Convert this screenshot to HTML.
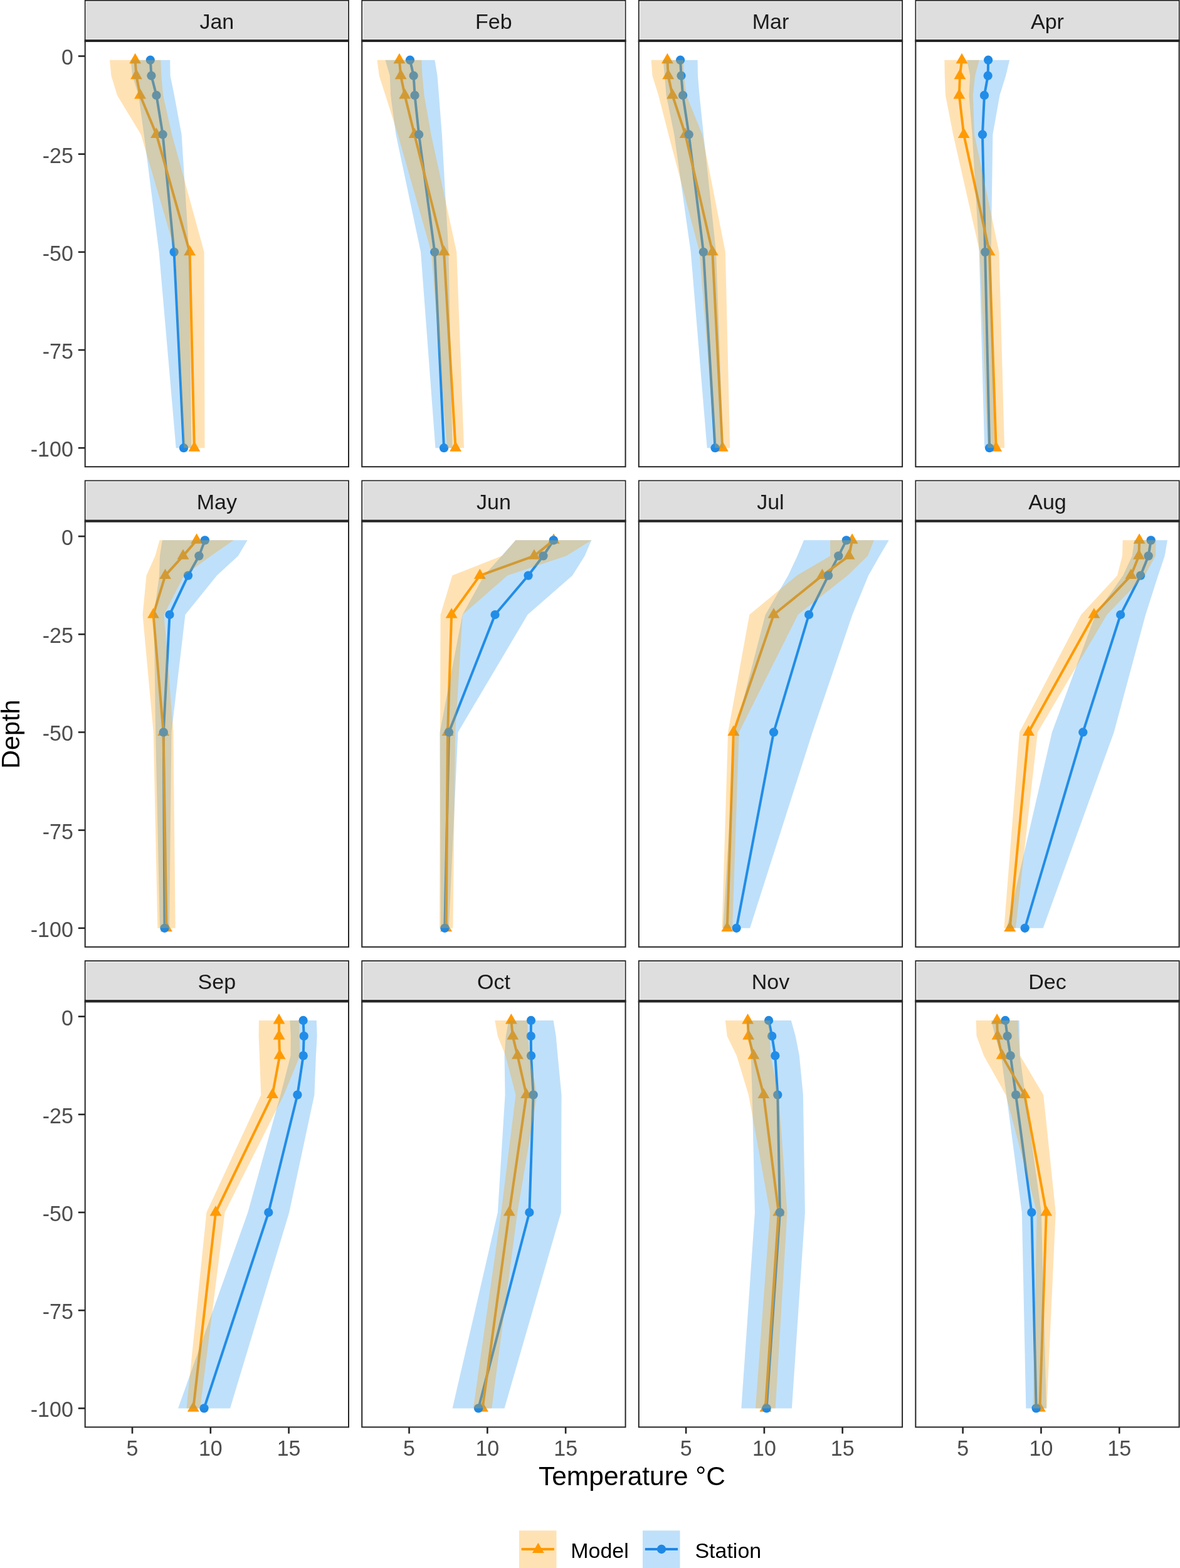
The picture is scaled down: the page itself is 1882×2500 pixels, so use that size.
<!DOCTYPE html>
<html><head><meta charset="utf-8"><title>Temperature profiles</title><style>html,body{margin:0;padding:0;background:#fff;}svg{display:block;}</style></head><body>
<svg width="1882" height="2500" viewBox="0 0 1882 2500" font-family="'Liberation Sans', Arial, Helvetica, sans-serif">
<rect width="1882" height="2500" fill="#FFFFFF"/>
<clipPath id="c0"><rect x="135.7" y="65" width="420.3" height="679.2"/></clipPath>
<g clip-path="url(#c0)"><polyline points="239.8,95.75 241.4,120.73 249.5,151.97 259.6,214.44 277.6,401.85 293,714.2" fill="none" stroke="#1E88E5" stroke-width="4" stroke-linejoin="round" stroke-linecap="butt"/><polyline points="215.6,95.75 217.4,120.73 223.5,151.97 249.5,214.44 302.6,401.85 309.9,714.2" fill="none" stroke="#FF9900" stroke-width="4" stroke-linejoin="round" stroke-linecap="butt"/><polygon points="215.6,84.85 225.04,101.2 206.16,101.2" fill="#FF9900"/><polygon points="217.4,109.83 226.84,126.19 207.96,126.19" fill="#FF9900"/><polygon points="223.5,141.07 232.94,157.42 214.06,157.42" fill="#FF9900"/><polygon points="249.5,203.54 258.94,219.89 240.06,219.89" fill="#FF9900"/><polygon points="302.6,390.95 312.04,407.3 293.16,407.3" fill="#FF9900"/><polygon points="309.9,703.3 319.34,719.65 300.46,719.65" fill="#FF9900"/><circle cx="239.8" cy="95.75" r="7.15" fill="#1E88E5"/><circle cx="241.4" cy="120.73" r="7.15" fill="#1E88E5"/><circle cx="249.5" cy="151.97" r="7.15" fill="#1E88E5"/><circle cx="259.6" cy="214.44" r="7.15" fill="#1E88E5"/><circle cx="277.6" cy="401.85" r="7.15" fill="#1E88E5"/><circle cx="293" cy="714.2" r="7.15" fill="#1E88E5"/><polygon points="208.4,95.75 211.2,120.73 221,151.97 229.6,214.44 253.6,401.85 280.7,714.2 305.3,714.2 301.6,401.85 289.6,214.44 278,151.97 271.6,120.73 271.2,95.75" fill="#2A98EE" fill-opacity="0.3"/><polygon points="175,95.75 177.4,120.73 186.9,151.97 224.8,214.44 279.6,401.85 293.3,714.2 326.5,714.2 325.6,401.85 274.2,214.44 260.1,151.97 257.4,120.73 256.2,95.75" fill="#FF9E08" fill-opacity="0.3"/></g>
<rect x="135.7" y="66" width="420.3" height="678.2" fill="none" stroke="#262626" stroke-width="2"/>
<rect x="135.7" y="0.8" width="420.3" height="63.2" fill="#DEDEDE" stroke="#262626" stroke-width="1.8"/>
<rect x="137.3" y="2.4" width="417.1" height="60" fill="none" stroke="#F2F2F2" stroke-width="1"/>
<line x1="134.7" y1="65" x2="557" y2="65" stroke="#262626" stroke-width="3.9"/>
<text x="345.85" y="46" text-anchor="middle" font-size="34" fill="#1A1A1A">Jan</text>
<clipPath id="c1"><rect x="577.25" y="65" width="420.3" height="679.2"/></clipPath>
<g clip-path="url(#c1)"><polyline points="653.95,95.75 659.65,120.73 661.55,151.97 668.15,214.44 693.25,401.85 708.05,714.2" fill="none" stroke="#1E88E5" stroke-width="4" stroke-linejoin="round" stroke-linecap="butt"/><polyline points="636.95,95.75 639.15,120.73 645.65,151.97 661.05,214.44 708.05,401.85 726.55,714.2" fill="none" stroke="#FF9900" stroke-width="4" stroke-linejoin="round" stroke-linecap="butt"/><polygon points="636.95,84.85 646.39,101.2 627.51,101.2" fill="#FF9900"/><polygon points="639.15,109.83 648.59,126.19 629.71,126.19" fill="#FF9900"/><polygon points="645.65,141.07 655.09,157.42 636.21,157.42" fill="#FF9900"/><polygon points="661.05,203.54 670.49,219.89 651.61,219.89" fill="#FF9900"/><polygon points="708.05,390.95 717.49,407.3 698.61,407.3" fill="#FF9900"/><polygon points="726.55,703.3 735.99,719.65 717.11,719.65" fill="#FF9900"/><circle cx="653.95" cy="95.75" r="7.15" fill="#1E88E5"/><circle cx="659.65" cy="120.73" r="7.15" fill="#1E88E5"/><circle cx="661.55" cy="151.97" r="7.15" fill="#1E88E5"/><circle cx="668.15" cy="214.44" r="7.15" fill="#1E88E5"/><circle cx="693.25" cy="401.85" r="7.15" fill="#1E88E5"/><circle cx="708.05" cy="714.2" r="7.15" fill="#1E88E5"/><polygon points="614.45,95.75 621.75,120.73 623.05,151.97 631.45,214.44 671.05,401.85 694.45,714.2 721.65,714.2 715.45,401.85 704.85,214.44 700.05,151.97 697.55,120.73 693.45,95.75" fill="#2A98EE" fill-opacity="0.3"/><polygon points="601.55,95.75 604.75,120.73 614.75,151.97 634.55,214.44 687.85,401.85 713.05,714.2 740.05,714.2 728.25,401.85 687.55,214.44 676.55,151.97 673.55,120.73 672.35,95.75" fill="#FF9E08" fill-opacity="0.3"/></g>
<rect x="577.25" y="66" width="420.3" height="678.2" fill="none" stroke="#262626" stroke-width="2"/>
<rect x="577.25" y="0.8" width="420.3" height="63.2" fill="#DEDEDE" stroke="#262626" stroke-width="1.8"/>
<rect x="578.85" y="2.4" width="417.1" height="60" fill="none" stroke="#F2F2F2" stroke-width="1"/>
<line x1="576.25" y1="65" x2="998.55" y2="65" stroke="#262626" stroke-width="3.9"/>
<text x="787.4" y="46" text-anchor="middle" font-size="34" fill="#1A1A1A">Feb</text>
<clipPath id="c2"><rect x="1018.8" y="65" width="420.3" height="679.2"/></clipPath>
<g clip-path="url(#c2)"><polyline points="1085.1,95.75 1086.5,120.73 1089.1,151.97 1098.7,214.44 1121.9,401.85 1140.6,714.2" fill="none" stroke="#1E88E5" stroke-width="4" stroke-linejoin="round" stroke-linecap="butt"/><polyline points="1064.4,95.75 1065.7,120.73 1072.5,151.97 1093.1,214.44 1136.3,401.85 1152.3,714.2" fill="none" stroke="#FF9900" stroke-width="4" stroke-linejoin="round" stroke-linecap="butt"/><polygon points="1064.4,84.85 1073.84,101.2 1054.96,101.2" fill="#FF9900"/><polygon points="1065.7,109.83 1075.14,126.19 1056.26,126.19" fill="#FF9900"/><polygon points="1072.5,141.07 1081.94,157.42 1063.06,157.42" fill="#FF9900"/><polygon points="1093.1,203.54 1102.54,219.89 1083.66,219.89" fill="#FF9900"/><polygon points="1136.3,390.95 1145.74,407.3 1126.86,407.3" fill="#FF9900"/><polygon points="1152.3,703.3 1161.74,719.65 1142.86,719.65" fill="#FF9900"/><circle cx="1085.1" cy="95.75" r="7.15" fill="#1E88E5"/><circle cx="1086.5" cy="120.73" r="7.15" fill="#1E88E5"/><circle cx="1089.1" cy="151.97" r="7.15" fill="#1E88E5"/><circle cx="1098.7" cy="214.44" r="7.15" fill="#1E88E5"/><circle cx="1121.9" cy="401.85" r="7.15" fill="#1E88E5"/><circle cx="1140.6" cy="714.2" r="7.15" fill="#1E88E5"/><polygon points="1057.6,95.75 1060,120.73 1062.6,151.97 1075.3,214.44 1101.7,401.85 1127.7,714.2 1153.5,714.2 1142.1,401.85 1122.1,214.44 1115.6,151.97 1113,120.73 1112.6,95.75" fill="#2A98EE" fill-opacity="0.3"/><polygon points="1038.6,95.75 1040.5,120.73 1050.2,151.97 1066.2,214.44 1115.7,401.85 1140.3,714.2 1164.3,714.2 1156.9,401.85 1120,214.44 1094.8,151.97 1090.9,120.73 1090.2,95.75" fill="#FF9E08" fill-opacity="0.3"/></g>
<rect x="1018.8" y="66" width="420.3" height="678.2" fill="none" stroke="#262626" stroke-width="2"/>
<rect x="1018.8" y="0.8" width="420.3" height="63.2" fill="#DEDEDE" stroke="#262626" stroke-width="1.8"/>
<rect x="1020.4" y="2.4" width="417.1" height="60" fill="none" stroke="#F2F2F2" stroke-width="1"/>
<line x1="1017.8" y1="65" x2="1440.1" y2="65" stroke="#262626" stroke-width="3.9"/>
<text x="1228.95" y="46" text-anchor="middle" font-size="34" fill="#1A1A1A">Mar</text>
<clipPath id="c3"><rect x="1460.35" y="65" width="420.3" height="679.2"/></clipPath>
<g clip-path="url(#c3)"><polyline points="1576.15,95.75 1575.65,120.73 1569.95,151.97 1566.95,214.44 1571.15,401.85 1578.15,714.2" fill="none" stroke="#1E88E5" stroke-width="4" stroke-linejoin="round" stroke-linecap="butt"/><polyline points="1534.05,95.75 1530.95,120.73 1529.85,151.97 1537.15,214.44 1578.05,401.85 1588.65,714.2" fill="none" stroke="#FF9900" stroke-width="4" stroke-linejoin="round" stroke-linecap="butt"/><polygon points="1534.05,84.85 1543.49,101.2 1524.61,101.2" fill="#FF9900"/><polygon points="1530.95,109.83 1540.39,126.19 1521.51,126.19" fill="#FF9900"/><polygon points="1529.85,141.07 1539.29,157.42 1520.41,157.42" fill="#FF9900"/><polygon points="1537.15,203.54 1546.59,219.89 1527.71,219.89" fill="#FF9900"/><polygon points="1578.05,390.95 1587.49,407.3 1568.61,407.3" fill="#FF9900"/><polygon points="1588.65,703.3 1598.09,719.65 1579.21,719.65" fill="#FF9900"/><circle cx="1576.15" cy="95.75" r="7.15" fill="#1E88E5"/><circle cx="1575.65" cy="120.73" r="7.15" fill="#1E88E5"/><circle cx="1569.95" cy="151.97" r="7.15" fill="#1E88E5"/><circle cx="1566.95" cy="214.44" r="7.15" fill="#1E88E5"/><circle cx="1571.15" cy="401.85" r="7.15" fill="#1E88E5"/><circle cx="1578.15" cy="714.2" r="7.15" fill="#1E88E5"/><polygon points="1542.15,95.75 1547.15,120.73 1545.45,151.97 1550.55,214.44 1561.65,401.85 1570.15,714.2 1586.15,714.2 1580.65,401.85 1583.35,214.44 1594.45,151.97 1604.15,120.73 1610.15,95.75" fill="#2A98EE" fill-opacity="0.3"/><polygon points="1506.35,95.75 1506.75,120.73 1507.95,151.97 1520.15,214.44 1562.65,401.85 1575.25,714.2 1602.05,714.2 1593.45,401.85 1554.15,214.44 1551.75,151.97 1555.15,120.73 1561.75,95.75" fill="#FF9E08" fill-opacity="0.3"/></g>
<rect x="1460.35" y="66" width="420.3" height="678.2" fill="none" stroke="#262626" stroke-width="2"/>
<rect x="1460.35" y="0.8" width="420.3" height="63.2" fill="#DEDEDE" stroke="#262626" stroke-width="1.8"/>
<rect x="1461.95" y="2.4" width="417.1" height="60" fill="none" stroke="#F2F2F2" stroke-width="1"/>
<line x1="1459.35" y1="65" x2="1881.65" y2="65" stroke="#262626" stroke-width="3.9"/>
<text x="1670.5" y="46" text-anchor="middle" font-size="34" fill="#1A1A1A">Apr</text>
<clipPath id="c4"><rect x="135.7" y="830.6" width="420.3" height="679.2"/></clipPath>
<g clip-path="url(#c4)"><polyline points="326.8,861.35 317.4,886.34 300,917.57 270.5,980.04 260.8,1167.45 262.5,1479.8" fill="none" stroke="#1E88E5" stroke-width="4" stroke-linejoin="round" stroke-linecap="butt"/><polyline points="313.6,861.35 292,886.34 263.5,917.57 244.5,980.04 260.6,1167.45 265.5,1479.8" fill="none" stroke="#FF9900" stroke-width="4" stroke-linejoin="round" stroke-linecap="butt"/><polygon points="313.6,850.45 323.04,866.8 304.16,866.8" fill="#FF9900"/><polygon points="292,875.44 301.44,891.79 282.56,891.79" fill="#FF9900"/><polygon points="263.5,906.67 272.94,923.02 254.06,923.02" fill="#FF9900"/><polygon points="244.5,969.14 253.94,985.49 235.06,985.49" fill="#FF9900"/><polygon points="260.6,1156.55 270.04,1172.9 251.16,1172.9" fill="#FF9900"/><polygon points="265.5,1468.9 274.94,1485.25 256.06,1485.25" fill="#FF9900"/><circle cx="326.8" cy="861.35" r="7.15" fill="#1E88E5"/><circle cx="317.4" cy="886.34" r="7.15" fill="#1E88E5"/><circle cx="300" cy="917.57" r="7.15" fill="#1E88E5"/><circle cx="270.5" cy="980.04" r="7.15" fill="#1E88E5"/><circle cx="260.8" cy="1167.45" r="7.15" fill="#1E88E5"/><circle cx="262.5" cy="1479.8" r="7.15" fill="#1E88E5"/><polygon points="258.9,861.35 254.9,886.34 254,917.57 245.5,980.04 248.1,1167.45 254.9,1479.8 270.1,1479.8 273.5,1167.45 295.5,980.04 346,917.57 379.9,886.34 394.7,861.35" fill="#2A98EE" fill-opacity="0.3"/><polygon points="254.5,861.35 247.5,886.34 233.5,917.57 227.5,980.04 244.7,1167.45 251.3,1479.8 279.7,1479.8 276.5,1167.45 261.5,980.04 293.5,917.57 336.5,886.34 372.7,861.35" fill="#FF9E08" fill-opacity="0.3"/></g>
<rect x="135.7" y="831.6" width="420.3" height="678.2" fill="none" stroke="#262626" stroke-width="2"/>
<rect x="135.7" y="766.4" width="420.3" height="63.2" fill="#DEDEDE" stroke="#262626" stroke-width="1.8"/>
<rect x="137.3" y="768" width="417.1" height="60" fill="none" stroke="#F2F2F2" stroke-width="1"/>
<line x1="134.7" y1="830.6" x2="557" y2="830.6" stroke="#262626" stroke-width="3.9"/>
<text x="345.85" y="811.6" text-anchor="middle" font-size="34" fill="#1A1A1A">May</text>
<clipPath id="c5"><rect x="577.25" y="830.6" width="420.3" height="679.2"/></clipPath>
<g clip-path="url(#c5)"><polyline points="882.85,861.35 866.45,886.34 842.55,917.57 789.55,980.04 715.95,1167.45 709.35,1479.8" fill="none" stroke="#1E88E5" stroke-width="4" stroke-linejoin="round" stroke-linecap="butt"/><polyline points="883.05,861.35 851.95,886.34 765.35,917.57 720.15,980.04 714.05,1167.45 711.65,1479.8" fill="none" stroke="#FF9900" stroke-width="4" stroke-linejoin="round" stroke-linecap="butt"/><polygon points="883.05,850.45 892.49,866.8 873.61,866.8" fill="#FF9900"/><polygon points="851.95,875.44 861.39,891.79 842.51,891.79" fill="#FF9900"/><polygon points="765.35,906.67 774.79,923.02 755.91,923.02" fill="#FF9900"/><polygon points="720.15,969.14 729.59,985.49 710.71,985.49" fill="#FF9900"/><polygon points="714.05,1156.55 723.49,1172.9 704.61,1172.9" fill="#FF9900"/><polygon points="711.65,1468.9 721.09,1485.25 702.21,1485.25" fill="#FF9900"/><circle cx="882.85" cy="861.35" r="7.15" fill="#1E88E5"/><circle cx="866.45" cy="886.34" r="7.15" fill="#1E88E5"/><circle cx="842.55" cy="917.57" r="7.15" fill="#1E88E5"/><circle cx="789.55" cy="980.04" r="7.15" fill="#1E88E5"/><circle cx="715.95" cy="1167.45" r="7.15" fill="#1E88E5"/><circle cx="709.35" cy="1479.8" r="7.15" fill="#1E88E5"/><polygon points="822.35,861.35 800.25,886.34 772.05,917.57 737.55,980.04 701.45,1167.45 702.85,1479.8 715.85,1479.8 730.45,1167.45 841.55,980.04 913.05,917.57 932.65,886.34 943.35,861.35" fill="#2A98EE" fill-opacity="0.3"/><polygon points="822.55,861.35 800.65,886.34 721.35,917.57 702.55,980.04 701.95,1167.45 700.95,1479.8 722.35,1479.8 726.15,1167.45 737.75,980.04 809.35,917.57 903.25,886.34 943.55,861.35" fill="#FF9E08" fill-opacity="0.3"/></g>
<rect x="577.25" y="831.6" width="420.3" height="678.2" fill="none" stroke="#262626" stroke-width="2"/>
<rect x="577.25" y="766.4" width="420.3" height="63.2" fill="#DEDEDE" stroke="#262626" stroke-width="1.8"/>
<rect x="578.85" y="768" width="417.1" height="60" fill="none" stroke="#F2F2F2" stroke-width="1"/>
<line x1="576.25" y1="830.6" x2="998.55" y2="830.6" stroke="#262626" stroke-width="3.9"/>
<text x="787.4" y="811.6" text-anchor="middle" font-size="34" fill="#1A1A1A">Jun</text>
<clipPath id="c6"><rect x="1018.8" y="830.6" width="420.3" height="679.2"/></clipPath>
<g clip-path="url(#c6)"><polyline points="1349.9,861.35 1337.3,886.34 1321.1,917.57 1290.1,980.04 1234,1167.45 1174.6,1479.8" fill="none" stroke="#1E88E5" stroke-width="4" stroke-linejoin="round" stroke-linecap="butt"/><polyline points="1359.1,861.35 1354.1,886.34 1311.4,917.57 1234,980.04 1169.9,1167.45 1159.8,1479.8" fill="none" stroke="#FF9900" stroke-width="4" stroke-linejoin="round" stroke-linecap="butt"/><polygon points="1359.1,850.45 1368.54,866.8 1349.66,866.8" fill="#FF9900"/><polygon points="1354.1,875.44 1363.54,891.79 1344.66,891.79" fill="#FF9900"/><polygon points="1311.4,906.67 1320.84,923.02 1301.96,923.02" fill="#FF9900"/><polygon points="1234,969.14 1243.44,985.49 1224.56,985.49" fill="#FF9900"/><polygon points="1169.9,1156.55 1179.34,1172.9 1160.46,1172.9" fill="#FF9900"/><polygon points="1159.8,1468.9 1169.24,1485.25 1150.36,1485.25" fill="#FF9900"/><circle cx="1349.9" cy="861.35" r="7.15" fill="#1E88E5"/><circle cx="1337.3" cy="886.34" r="7.15" fill="#1E88E5"/><circle cx="1321.1" cy="917.57" r="7.15" fill="#1E88E5"/><circle cx="1290.1" cy="980.04" r="7.15" fill="#1E88E5"/><circle cx="1234" cy="1167.45" r="7.15" fill="#1E88E5"/><circle cx="1174.6" cy="1479.8" r="7.15" fill="#1E88E5"/><polygon points="1282.1,861.35 1271.7,886.34 1257.1,917.57 1220.7,980.04 1172.2,1167.45 1153.1,1479.8 1196.1,1479.8 1295.8,1167.45 1359.5,980.04 1385.1,917.57 1402.9,886.34 1417.7,861.35" fill="#2A98EE" fill-opacity="0.3"/><polygon points="1324.2,861.35 1324.2,886.34 1271,917.57 1195.3,980.04 1161.1,1167.45 1151.5,1479.8 1168.1,1479.8 1178.7,1167.45 1272.7,980.04 1351.8,917.57 1384,886.34 1394,861.35" fill="#FF9E08" fill-opacity="0.3"/></g>
<rect x="1018.8" y="831.6" width="420.3" height="678.2" fill="none" stroke="#262626" stroke-width="2"/>
<rect x="1018.8" y="766.4" width="420.3" height="63.2" fill="#DEDEDE" stroke="#262626" stroke-width="1.8"/>
<rect x="1020.4" y="768" width="417.1" height="60" fill="none" stroke="#F2F2F2" stroke-width="1"/>
<line x1="1017.8" y1="830.6" x2="1440.1" y2="830.6" stroke="#262626" stroke-width="3.9"/>
<text x="1228.95" y="811.6" text-anchor="middle" font-size="34" fill="#1A1A1A">Jul</text>
<clipPath id="c7"><rect x="1460.35" y="830.6" width="420.3" height="679.2"/></clipPath>
<g clip-path="url(#c7)"><polyline points="1835.65,861.35 1831.65,886.34 1819.15,917.57 1787.15,980.04 1727.25,1167.45 1634.65,1479.8" fill="none" stroke="#1E88E5" stroke-width="4" stroke-linejoin="round" stroke-linecap="butt"/><polyline points="1817.15,861.35 1816.45,886.34 1803.85,917.57 1744.85,980.04 1640.45,1167.45 1610.65,1479.8" fill="none" stroke="#FF9900" stroke-width="4" stroke-linejoin="round" stroke-linecap="butt"/><polygon points="1817.15,850.45 1826.59,866.8 1807.71,866.8" fill="#FF9900"/><polygon points="1816.45,875.44 1825.89,891.79 1807.01,891.79" fill="#FF9900"/><polygon points="1803.85,906.67 1813.29,923.02 1794.41,923.02" fill="#FF9900"/><polygon points="1744.85,969.14 1754.29,985.49 1735.41,985.49" fill="#FF9900"/><polygon points="1640.45,1156.55 1649.89,1172.9 1631.01,1172.9" fill="#FF9900"/><polygon points="1610.65,1468.9 1620.09,1485.25 1601.21,1485.25" fill="#FF9900"/><circle cx="1835.65" cy="861.35" r="7.15" fill="#1E88E5"/><circle cx="1831.65" cy="886.34" r="7.15" fill="#1E88E5"/><circle cx="1819.15" cy="917.57" r="7.15" fill="#1E88E5"/><circle cx="1787.15" cy="980.04" r="7.15" fill="#1E88E5"/><circle cx="1727.25" cy="1167.45" r="7.15" fill="#1E88E5"/><circle cx="1634.65" cy="1479.8" r="7.15" fill="#1E88E5"/><polygon points="1809.35,861.35 1805.65,886.34 1791.15,917.57 1747.15,980.04 1677.85,1167.45 1605.65,1479.8 1663.65,1479.8 1776.65,1167.45 1827.15,980.04 1847.15,917.57 1857.65,886.34 1861.95,861.35" fill="#2A98EE" fill-opacity="0.3"/><polygon points="1790.65,861.35 1789.95,886.34 1781.95,917.57 1724.25,980.04 1625.95,1167.45 1601.35,1479.8 1619.95,1479.8 1654.95,1167.45 1765.45,980.04 1825.75,917.57 1842.95,886.34 1843.65,861.35" fill="#FF9E08" fill-opacity="0.3"/></g>
<rect x="1460.35" y="831.6" width="420.3" height="678.2" fill="none" stroke="#262626" stroke-width="2"/>
<rect x="1460.35" y="766.4" width="420.3" height="63.2" fill="#DEDEDE" stroke="#262626" stroke-width="1.8"/>
<rect x="1461.95" y="768" width="417.1" height="60" fill="none" stroke="#F2F2F2" stroke-width="1"/>
<line x1="1459.35" y1="830.6" x2="1881.65" y2="830.6" stroke="#262626" stroke-width="3.9"/>
<text x="1670.5" y="811.6" text-anchor="middle" font-size="34" fill="#1A1A1A">Aug</text>
<clipPath id="c8"><rect x="135.7" y="1596.2" width="420.3" height="679.2"/></clipPath>
<g clip-path="url(#c8)"><polyline points="483.6,1626.95 484.7,1651.93 483.7,1683.17 474.4,1745.64 428.3,1933.05 325.5,2245.4" fill="none" stroke="#1E88E5" stroke-width="4" stroke-linejoin="round" stroke-linecap="butt"/><polyline points="445,1626.95 445.1,1651.93 446.1,1683.17 434.5,1745.64 344,1933.05 308.3,2245.4" fill="none" stroke="#FF9900" stroke-width="4" stroke-linejoin="round" stroke-linecap="butt"/><polygon points="445,1616.05 454.44,1632.4 435.56,1632.4" fill="#FF9900"/><polygon points="445.1,1641.03 454.54,1657.38 435.66,1657.38" fill="#FF9900"/><polygon points="446.1,1672.27 455.54,1688.62 436.66,1688.62" fill="#FF9900"/><polygon points="434.5,1734.74 443.94,1751.09 425.06,1751.09" fill="#FF9900"/><polygon points="344,1922.15 353.44,1938.5 334.56,1938.5" fill="#FF9900"/><polygon points="308.3,2234.5 317.74,2250.85 298.86,2250.85" fill="#FF9900"/><circle cx="483.6" cy="1626.95" r="7.15" fill="#1E88E5"/><circle cx="484.7" cy="1651.93" r="7.15" fill="#1E88E5"/><circle cx="483.7" cy="1683.17" r="7.15" fill="#1E88E5"/><circle cx="474.4" cy="1745.64" r="7.15" fill="#1E88E5"/><circle cx="428.3" cy="1933.05" r="7.15" fill="#1E88E5"/><circle cx="325.5" cy="2245.4" r="7.15" fill="#1E88E5"/><polygon points="462.4,1626.95 463.7,1651.93 463.5,1683.17 447.4,1745.64 395.3,1933.05 284,2245.4 367,2245.4 461.3,1933.05 501.4,1745.64 503.9,1683.17 505.7,1651.93 504.8,1626.95" fill="#2A98EE" fill-opacity="0.3"/><polygon points="412.9,1626.95 412.6,1651.93 413.9,1683.17 416.3,1745.64 329.4,1933.05 297.4,2245.4 319.2,2245.4 358.6,1933.05 452.7,1745.64 478.3,1683.17 477.6,1651.93 477.1,1626.95" fill="#FF9E08" fill-opacity="0.3"/></g>
<rect x="135.7" y="1597.2" width="420.3" height="678.2" fill="none" stroke="#262626" stroke-width="2"/>
<rect x="135.7" y="1532" width="420.3" height="63.2" fill="#DEDEDE" stroke="#262626" stroke-width="1.8"/>
<rect x="137.3" y="1533.6" width="417.1" height="60" fill="none" stroke="#F2F2F2" stroke-width="1"/>
<line x1="134.7" y1="1596.2" x2="557" y2="1596.2" stroke="#262626" stroke-width="3.9"/>
<text x="345.85" y="1577.2" text-anchor="middle" font-size="34" fill="#1A1A1A">Sep</text>
<clipPath id="c9"><rect x="577.25" y="1596.2" width="420.3" height="679.2"/></clipPath>
<g clip-path="url(#c9)"><polyline points="846.95,1626.95 846.75,1651.93 847.05,1683.17 850.55,1745.64 844.35,1933.05 763.05,2245.4" fill="none" stroke="#1E88E5" stroke-width="4" stroke-linejoin="round" stroke-linecap="butt"/><polyline points="815.35,1626.95 817.75,1651.93 825.45,1683.17 839.55,1745.64 812.25,1933.05 769.55,2245.4" fill="none" stroke="#FF9900" stroke-width="4" stroke-linejoin="round" stroke-linecap="butt"/><polygon points="815.35,1616.05 824.79,1632.4 805.91,1632.4" fill="#FF9900"/><polygon points="817.75,1641.03 827.19,1657.38 808.31,1657.38" fill="#FF9900"/><polygon points="825.45,1672.27 834.89,1688.62 816.01,1688.62" fill="#FF9900"/><polygon points="839.55,1734.74 848.99,1751.09 830.11,1751.09" fill="#FF9900"/><polygon points="812.25,1922.15 821.69,1938.5 802.81,1938.5" fill="#FF9900"/><polygon points="769.55,2234.5 778.99,2250.85 760.11,2250.85" fill="#FF9900"/><circle cx="846.95" cy="1626.95" r="7.15" fill="#1E88E5"/><circle cx="846.75" cy="1651.93" r="7.15" fill="#1E88E5"/><circle cx="847.05" cy="1683.17" r="7.15" fill="#1E88E5"/><circle cx="850.55" cy="1745.64" r="7.15" fill="#1E88E5"/><circle cx="844.35" cy="1933.05" r="7.15" fill="#1E88E5"/><circle cx="763.05" cy="2245.4" r="7.15" fill="#1E88E5"/><polygon points="811.25,1626.95 806.75,1651.93 804.55,1683.17 805.55,1745.64 793.85,1933.05 721.55,2245.4 804.55,2245.4 894.85,1933.05 895.55,1745.64 889.55,1683.17 886.75,1651.93 882.65,1626.95" fill="#2A98EE" fill-opacity="0.3"/><polygon points="789.35,1626.95 793.75,1651.93 806.25,1683.17 822.55,1745.64 799.25,1933.05 754.85,2245.4 784.25,2245.4 825.25,1933.05 856.55,1745.64 844.65,1683.17 841.75,1651.93 841.35,1626.95" fill="#FF9E08" fill-opacity="0.3"/></g>
<rect x="577.25" y="1597.2" width="420.3" height="678.2" fill="none" stroke="#262626" stroke-width="2"/>
<rect x="577.25" y="1532" width="420.3" height="63.2" fill="#DEDEDE" stroke="#262626" stroke-width="1.8"/>
<rect x="578.85" y="1533.6" width="417.1" height="60" fill="none" stroke="#F2F2F2" stroke-width="1"/>
<line x1="576.25" y1="1596.2" x2="998.55" y2="1596.2" stroke="#262626" stroke-width="3.9"/>
<text x="787.4" y="1577.2" text-anchor="middle" font-size="34" fill="#1A1A1A">Oct</text>
<clipPath id="c10"><rect x="1018.8" y="1596.2" width="420.3" height="679.2"/></clipPath>
<g clip-path="url(#c10)"><polyline points="1226.1,1626.95 1231.2,1651.93 1236.3,1683.17 1240.3,1745.64 1243.9,1933.05 1222.6,2245.4" fill="none" stroke="#1E88E5" stroke-width="4" stroke-linejoin="round" stroke-linecap="butt"/><polyline points="1192.6,1626.95 1193.7,1651.93 1201.9,1683.17 1217.9,1745.64 1241.8,1933.05 1220.8,2245.4" fill="none" stroke="#FF9900" stroke-width="4" stroke-linejoin="round" stroke-linecap="butt"/><polygon points="1192.6,1616.05 1202.04,1632.4 1183.16,1632.4" fill="#FF9900"/><polygon points="1193.7,1641.03 1203.14,1657.38 1184.26,1657.38" fill="#FF9900"/><polygon points="1201.9,1672.27 1211.34,1688.62 1192.46,1688.62" fill="#FF9900"/><polygon points="1217.9,1734.74 1227.34,1751.09 1208.46,1751.09" fill="#FF9900"/><polygon points="1241.8,1922.15 1251.24,1938.5 1232.36,1938.5" fill="#FF9900"/><polygon points="1220.8,2234.5 1230.24,2250.85 1211.36,2250.85" fill="#FF9900"/><circle cx="1226.1" cy="1626.95" r="7.15" fill="#1E88E5"/><circle cx="1231.2" cy="1651.93" r="7.15" fill="#1E88E5"/><circle cx="1236.3" cy="1683.17" r="7.15" fill="#1E88E5"/><circle cx="1240.3" cy="1745.64" r="7.15" fill="#1E88E5"/><circle cx="1243.9" cy="1933.05" r="7.15" fill="#1E88E5"/><circle cx="1222.6" cy="2245.4" r="7.15" fill="#1E88E5"/><polygon points="1190.4,1626.95 1193.6,1651.93 1197.7,1683.17 1199.7,1745.64 1203.9,1933.05 1182.3,2245.4 1262.9,2245.4 1283.9,1933.05 1280.9,1745.64 1274.9,1683.17 1268.8,1651.93 1261.8,1626.95" fill="#2A98EE" fill-opacity="0.3"/><polygon points="1156.9,1626.95 1159.7,1651.93 1174.9,1683.17 1193.9,1745.64 1228.1,1933.05 1204.9,2245.4 1236.7,2245.4 1255.5,1933.05 1241.9,1745.64 1228.9,1683.17 1227.7,1651.93 1228.3,1626.95" fill="#FF9E08" fill-opacity="0.3"/></g>
<rect x="1018.8" y="1597.2" width="420.3" height="678.2" fill="none" stroke="#262626" stroke-width="2"/>
<rect x="1018.8" y="1532" width="420.3" height="63.2" fill="#DEDEDE" stroke="#262626" stroke-width="1.8"/>
<rect x="1020.4" y="1533.6" width="417.1" height="60" fill="none" stroke="#F2F2F2" stroke-width="1"/>
<line x1="1017.8" y1="1596.2" x2="1440.1" y2="1596.2" stroke="#262626" stroke-width="3.9"/>
<text x="1228.95" y="1577.2" text-anchor="middle" font-size="34" fill="#1A1A1A">Nov</text>
<clipPath id="c11"><rect x="1460.35" y="1596.2" width="420.3" height="679.2"/></clipPath>
<g clip-path="url(#c11)"><polyline points="1603.35,1626.95 1606.65,1651.93 1611.65,1683.17 1620.15,1745.64 1645.35,1933.05 1652.65,2245.4" fill="none" stroke="#1E88E5" stroke-width="4" stroke-linejoin="round" stroke-linecap="butt"/><polyline points="1590.15,1626.95 1590.95,1651.93 1598.15,1683.17 1634.15,1745.64 1668.75,1933.05 1658.45,2245.4" fill="none" stroke="#FF9900" stroke-width="4" stroke-linejoin="round" stroke-linecap="butt"/><polygon points="1590.15,1616.05 1599.59,1632.4 1580.71,1632.4" fill="#FF9900"/><polygon points="1590.95,1641.03 1600.39,1657.38 1581.51,1657.38" fill="#FF9900"/><polygon points="1598.15,1672.27 1607.59,1688.62 1588.71,1688.62" fill="#FF9900"/><polygon points="1634.15,1734.74 1643.59,1751.09 1624.71,1751.09" fill="#FF9900"/><polygon points="1668.75,1922.15 1678.19,1938.5 1659.31,1938.5" fill="#FF9900"/><polygon points="1658.45,2234.5 1667.89,2250.85 1649.01,2250.85" fill="#FF9900"/><circle cx="1603.35" cy="1626.95" r="7.15" fill="#1E88E5"/><circle cx="1606.65" cy="1651.93" r="7.15" fill="#1E88E5"/><circle cx="1611.65" cy="1683.17" r="7.15" fill="#1E88E5"/><circle cx="1620.15" cy="1745.64" r="7.15" fill="#1E88E5"/><circle cx="1645.35" cy="1933.05" r="7.15" fill="#1E88E5"/><circle cx="1652.65" cy="2245.4" r="7.15" fill="#1E88E5"/><polygon points="1581.05,1626.95 1587.15,1651.93 1596.65,1683.17 1605.15,1745.64 1629.85,1933.05 1636.35,2245.4 1668.95,2245.4 1660.85,1933.05 1635.15,1745.64 1626.65,1683.17 1626.15,1651.93 1625.65,1626.95" fill="#2A98EE" fill-opacity="0.3"/><polygon points="1556.65,1626.95 1557.55,1651.93 1569.15,1683.17 1604.15,1745.64 1653.75,1933.05 1647.45,2245.4 1669.45,2245.4 1683.75,1933.05 1664.15,1745.64 1627.15,1683.17 1624.35,1651.93 1623.65,1626.95" fill="#FF9E08" fill-opacity="0.3"/></g>
<rect x="1460.35" y="1597.2" width="420.3" height="678.2" fill="none" stroke="#262626" stroke-width="2"/>
<rect x="1460.35" y="1532" width="420.3" height="63.2" fill="#DEDEDE" stroke="#262626" stroke-width="1.8"/>
<rect x="1461.95" y="1533.6" width="417.1" height="60" fill="none" stroke="#F2F2F2" stroke-width="1"/>
<line x1="1459.35" y1="1596.2" x2="1881.65" y2="1596.2" stroke="#262626" stroke-width="3.9"/>
<text x="1670.5" y="1577.2" text-anchor="middle" font-size="34" fill="#1A1A1A">Dec</text>
<line x1="124.8" y1="89.5" x2="135.7" y2="89.5" stroke="#262626" stroke-width="2.6"/>
<text x="116.8" y="103.2" text-anchor="end" font-size="34" fill="#4D4D4D" transform="matrix(1 0 0 1.025 0 -2.29)">0</text>
<line x1="124.8" y1="245.68" x2="135.7" y2="245.68" stroke="#262626" stroke-width="2.6"/>
<text x="116.8" y="259.38" text-anchor="end" font-size="34" fill="#4D4D4D" transform="matrix(1 0 0 1.025 0 -6.19)">-25</text>
<line x1="124.8" y1="401.85" x2="135.7" y2="401.85" stroke="#262626" stroke-width="2.6"/>
<text x="116.8" y="415.55" text-anchor="end" font-size="34" fill="#4D4D4D" transform="matrix(1 0 0 1.025 0 -10.1)">-50</text>
<line x1="124.8" y1="558.02" x2="135.7" y2="558.02" stroke="#262626" stroke-width="2.6"/>
<text x="116.8" y="571.73" text-anchor="end" font-size="34" fill="#4D4D4D" transform="matrix(1 0 0 1.025 0 -14)">-75</text>
<line x1="124.8" y1="714.2" x2="135.7" y2="714.2" stroke="#262626" stroke-width="2.6"/>
<text x="116.8" y="727.9" text-anchor="end" font-size="34" fill="#4D4D4D" transform="matrix(1 0 0 1.025 0 -17.91)">-100</text>
<line x1="124.8" y1="855.1" x2="135.7" y2="855.1" stroke="#262626" stroke-width="2.6"/>
<text x="116.8" y="868.8" text-anchor="end" font-size="34" fill="#4D4D4D" transform="matrix(1 0 0 1.025 0 -21.43)">0</text>
<line x1="124.8" y1="1011.28" x2="135.7" y2="1011.28" stroke="#262626" stroke-width="2.6"/>
<text x="116.8" y="1024.98" text-anchor="end" font-size="34" fill="#4D4D4D" transform="matrix(1 0 0 1.025 0 -25.33)">-25</text>
<line x1="124.8" y1="1167.45" x2="135.7" y2="1167.45" stroke="#262626" stroke-width="2.6"/>
<text x="116.8" y="1181.15" text-anchor="end" font-size="34" fill="#4D4D4D" transform="matrix(1 0 0 1.025 0 -29.24)">-50</text>
<line x1="124.8" y1="1323.62" x2="135.7" y2="1323.62" stroke="#262626" stroke-width="2.6"/>
<text x="116.8" y="1337.33" text-anchor="end" font-size="34" fill="#4D4D4D" transform="matrix(1 0 0 1.025 0 -33.14)">-75</text>
<line x1="124.8" y1="1479.8" x2="135.7" y2="1479.8" stroke="#262626" stroke-width="2.6"/>
<text x="116.8" y="1493.5" text-anchor="end" font-size="34" fill="#4D4D4D" transform="matrix(1 0 0 1.025 0 -37.05)">-100</text>
<line x1="124.8" y1="1620.7" x2="135.7" y2="1620.7" stroke="#262626" stroke-width="2.6"/>
<text x="116.8" y="1634.4" text-anchor="end" font-size="34" fill="#4D4D4D" transform="matrix(1 0 0 1.025 0 -40.57)">0</text>
<line x1="124.8" y1="1776.88" x2="135.7" y2="1776.88" stroke="#262626" stroke-width="2.6"/>
<text x="116.8" y="1790.58" text-anchor="end" font-size="34" fill="#4D4D4D" transform="matrix(1 0 0 1.025 0 -44.47)">-25</text>
<line x1="124.8" y1="1933.05" x2="135.7" y2="1933.05" stroke="#262626" stroke-width="2.6"/>
<text x="116.8" y="1946.75" text-anchor="end" font-size="34" fill="#4D4D4D" transform="matrix(1 0 0 1.025 0 -48.38)">-50</text>
<line x1="124.8" y1="2089.22" x2="135.7" y2="2089.22" stroke="#262626" stroke-width="2.6"/>
<text x="116.8" y="2102.92" text-anchor="end" font-size="34" fill="#4D4D4D" transform="matrix(1 0 0 1.025 0 -52.28)">-75</text>
<line x1="124.8" y1="2245.4" x2="135.7" y2="2245.4" stroke="#262626" stroke-width="2.6"/>
<text x="116.8" y="2259.1" text-anchor="end" font-size="34" fill="#4D4D4D" transform="matrix(1 0 0 1.025 0 -56.19)">-100</text>
<line x1="211" y1="2275.4" x2="211" y2="2285.7" stroke="#262626" stroke-width="2.6"/>
<text x="211" y="2320.4" text-anchor="middle" font-size="34" fill="#4D4D4D" transform="matrix(1 0 0 1.025 0 -57.72)">5</text>
<line x1="335.8" y1="2275.4" x2="335.8" y2="2285.7" stroke="#262626" stroke-width="2.6"/>
<text x="335.8" y="2320.4" text-anchor="middle" font-size="34" fill="#4D4D4D" transform="matrix(1 0 0 1.025 0 -57.72)">10</text>
<line x1="460.6" y1="2275.4" x2="460.6" y2="2285.7" stroke="#262626" stroke-width="2.6"/>
<text x="460.6" y="2320.4" text-anchor="middle" font-size="34" fill="#4D4D4D" transform="matrix(1 0 0 1.025 0 -57.72)">15</text>
<line x1="652.55" y1="2275.4" x2="652.55" y2="2285.7" stroke="#262626" stroke-width="2.6"/>
<text x="652.55" y="2320.4" text-anchor="middle" font-size="34" fill="#4D4D4D" transform="matrix(1 0 0 1.025 0 -57.72)">5</text>
<line x1="777.35" y1="2275.4" x2="777.35" y2="2285.7" stroke="#262626" stroke-width="2.6"/>
<text x="777.35" y="2320.4" text-anchor="middle" font-size="34" fill="#4D4D4D" transform="matrix(1 0 0 1.025 0 -57.72)">10</text>
<line x1="902.15" y1="2275.4" x2="902.15" y2="2285.7" stroke="#262626" stroke-width="2.6"/>
<text x="902.15" y="2320.4" text-anchor="middle" font-size="34" fill="#4D4D4D" transform="matrix(1 0 0 1.025 0 -57.72)">15</text>
<line x1="1094.1" y1="2275.4" x2="1094.1" y2="2285.7" stroke="#262626" stroke-width="2.6"/>
<text x="1094.1" y="2320.4" text-anchor="middle" font-size="34" fill="#4D4D4D" transform="matrix(1 0 0 1.025 0 -57.72)">5</text>
<line x1="1218.9" y1="2275.4" x2="1218.9" y2="2285.7" stroke="#262626" stroke-width="2.6"/>
<text x="1218.9" y="2320.4" text-anchor="middle" font-size="34" fill="#4D4D4D" transform="matrix(1 0 0 1.025 0 -57.72)">10</text>
<line x1="1343.7" y1="2275.4" x2="1343.7" y2="2285.7" stroke="#262626" stroke-width="2.6"/>
<text x="1343.7" y="2320.4" text-anchor="middle" font-size="34" fill="#4D4D4D" transform="matrix(1 0 0 1.025 0 -57.72)">15</text>
<line x1="1535.65" y1="2275.4" x2="1535.65" y2="2285.7" stroke="#262626" stroke-width="2.6"/>
<text x="1535.65" y="2320.4" text-anchor="middle" font-size="34" fill="#4D4D4D" transform="matrix(1 0 0 1.025 0 -57.72)">5</text>
<line x1="1660.45" y1="2275.4" x2="1660.45" y2="2285.7" stroke="#262626" stroke-width="2.6"/>
<text x="1660.45" y="2320.4" text-anchor="middle" font-size="34" fill="#4D4D4D" transform="matrix(1 0 0 1.025 0 -57.72)">10</text>
<line x1="1785.25" y1="2275.4" x2="1785.25" y2="2285.7" stroke="#262626" stroke-width="2.6"/>
<text x="1785.25" y="2320.4" text-anchor="middle" font-size="34" fill="#4D4D4D" transform="matrix(1 0 0 1.025 0 -57.72)">15</text>
<text x="1008" y="2367.6" text-anchor="middle" font-size="42.5" fill="#000">Temperature °C</text>
<text transform="translate(31,1170.6) rotate(-90)" text-anchor="middle" font-size="41.4" fill="#000">Depth</text>
<rect x="828" y="2440.3" width="59.5" height="80" fill="#FF9E08" fill-opacity="0.3"/>
<line x1="831.6" y1="2470.1" x2="883.9" y2="2470.1" stroke="#FF9900" stroke-width="4"/>
<polygon points="858.3,2459.7 867.74,2476.05 848.86,2476.05" fill="#FF9900"/>
<text x="910.2" y="2483.9" font-size="34" fill="#000">Model</text>
<rect x="1025" y="2440.3" width="59.5" height="80" fill="#2A98EE" fill-opacity="0.3"/>
<line x1="1028.8" y1="2470.1" x2="1081.1" y2="2470.1" stroke="#1E88E5" stroke-width="4"/>
<circle cx="1055" cy="2470" r="7.15" fill="#1E88E5"/>
<text x="1108.4" y="2483.9" font-size="34" fill="#000">Station</text>
</svg>
</body></html>
